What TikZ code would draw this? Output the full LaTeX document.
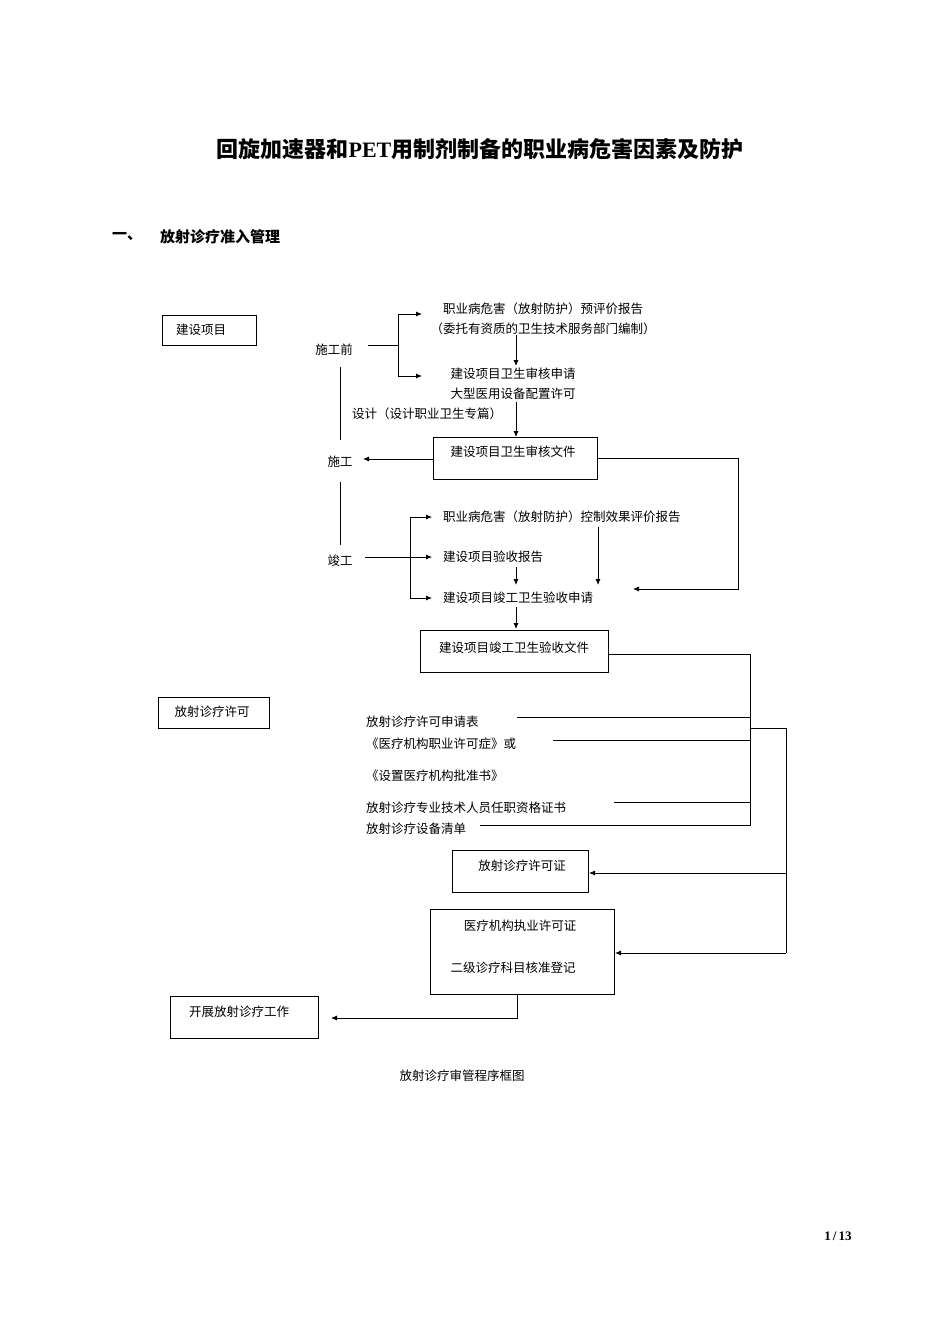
\documentclass[tikz,border=0pt]{standalone}
\usepackage{fontspec}
\setmainfont{Liberation Serif}
\newfontfamily\cjk{Noto Sans CJK SC}
\usetikzlibrary{arrows.meta}
\begin{document}
\begin{tikzpicture}[x=1pt,y=-1pt,
  t/.style={font=\cjk\fontsize{12.5}{14}\selectfont,inner sep=0pt},
  bx/.style={draw,line width=0.8pt},
  ln/.style={line width=0.8pt},
  ar/.style={line width=0.8pt,-{Latex[length=6pt,width=5pt]}}]
\useasboundingbox (0,0) rectangle (950,1344);
\node[font=\cjk\bfseries\fontsize{22}{26}\selectfont,inner sep=0pt] (title) at (480,149) {回旋加速器和{\rmfamily\bfseries PET}用制剂制备的职业病危害因素及防护};
\node[font=\cjk\bfseries\fontsize{15}{18}\selectfont,anchor=west,inner sep=0pt] (h1) at (112,237) {一、};
\node[font=\cjk\bfseries\fontsize{15}{18}\selectfont,anchor=west,inner sep=0pt] (h2) at (160,237) {放射诊疗准入管理};
% boxes
\draw[bx] (162,315) rectangle (256,345);
\node[t] (jsxm) at (201,330) {建设项目};
\draw[bx] (158,697) rectangle (269,728);
\node[t] (fsxk) at (212,712) {放射诊疗许可};
\node[t] (sgq) at (334,350) {施工前};
\node[t] (sg) at (340,462) {施工};
\node[t] (jg) at (340,561) {竣工};
\node[t] (p1) at (543,309) {职业病危害（放射防护）预评价报告};
\node[t] (p2) at (543,329) {（委托有资质的卫生技术服务部门编制）};
\node[t] (a1) at (513,374) {建设项目卫生审核申请};
\node[t] (a2) at (513,394) {大型医用设备配置许可};
\node[t] (sj) at (427,414) {设计（设计职业卫生专篇）};
\node[bx,t,minimum width=164pt,minimum height=42pt,anchor=north west] (shwj) at (433,437) {};
\node[t] at (513,452) {建设项目卫生审核文件};
\node[t,anchor=west] (k1) at (443,517) {职业病危害（放射防护）控制效果评价报告};
\node[t,anchor=west] (k2) at (443,557) {建设项目验收报告};
\node[t,anchor=west] (k3) at (443,598) {建设项目竣工卫生验收申请};
\node[bx,t,minimum width=188pt,minimum height=42pt,anchor=north west] (ysw) at (420,630) {};
\node[t] at (514,648) {建设项目竣工卫生验收文件};
\node[t,anchor=west] (l1) at (366,722) {放射诊疗许可申请表};
\node[t,anchor=west] (l2) at (366,744) {《医疗机构职业许可症》或};
\node[t,anchor=west] (l3) at (366,776) {《设置医疗机构批准书》};
\node[t,anchor=west] (l4) at (366,808) {放射诊疗专业技术人员任职资格证书};
\node[t,anchor=west] (l5) at (366,829) {放射诊疗设备清单};
\node[bx,t,minimum width=136pt,minimum height=42pt,anchor=north west] (xkz) at (452,850) {};
\node[t] at (522,866) {放射诊疗许可证};
\node[bx,t,minimum width=184pt,minimum height=85pt,anchor=north west] (yl) at (430,909) {};
\node[t] at (520,926) {医疗机构执业许可证};
\node[t] at (513,968) {二级诊疗科目核准登记};
\draw[bx] (170,996) rectangle (318,1038);
\node[t] (kz) at (239,1012) {开展放射诊疗工作};
\node[t] (cap) at (462,1076) {放射诊疗审管程序框图};
\node[font=\bfseries\fontsize{13}{15}\selectfont,inner sep=0pt] (pg) at (838,1236) {1\,/\,13};
% connectors
\coordinate (b1) at (398,345);
\draw[ln] (368,345) -- (b1);
\draw[ar] (398,314) |- (422,314) ; \draw[ln] (398,314) -- (398,376);
\draw[ar] (398,376) -- (422,376);
\draw[ar] (516,335) -- (516,366);
\draw[ar] (516,402) -- (516,437);
\draw[ln] (340,367) -- (340,440);
\draw[ln] (340,482) -- (340,545);
\draw[ar] (433,459) -- (363,459);
\draw[ar] (597,458) -- (738,458) -- (738,589) -- (633,589);
\draw[ln] (410,517) -- (410,598);
\draw[ar] (410,517) -- (432,517);
\draw[ar] (410,598) -- (432,598);
\draw[ar] (365,557) -- (432,557);
\draw[ar] (516,567) -- (516,585);
\draw[ar] (598,527) -- (598,585);
\draw[ar] (516,607) -- (516,629);
\draw[ln] (608,654) -- (750,654) -- (750,825) -- (480,825);
\draw[ln] (517,717) -- (750,717);
\draw[ln] (553,740) -- (750,740);
\draw[ln] (614,802) -- (750,802);
\draw[ln] (750,728) -- (786,728) -- (786,953);
\draw[ar] (786,873) -- (589,873);
\draw[ar] (786,953) -- (615,953);
\draw[ar] (517,994) -- (517,1018) -- (331,1018);
\end{tikzpicture}
\end{document}
